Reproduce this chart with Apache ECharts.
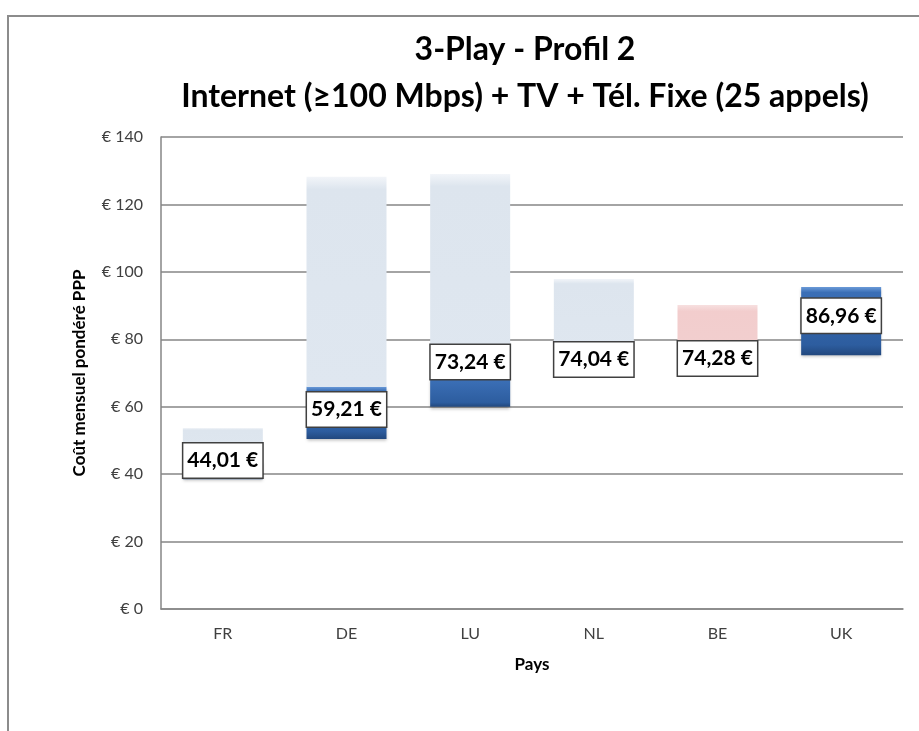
<!DOCTYPE html>
<html>
<head>
<meta charset="utf-8">
<script src="https://cdn.jsdelivr.net/npm/echarts@6/dist/echarts.min.js"></script>
<style>
  html, body { margin: 0; padding: 0; background: #fff; }
  #chart { width: 919px; height: 731px; }
</style>
</head>
<body>
<div id="chart"></div>
<script>
// pays
var pays = ['FR', 'DE', 'LU', 'NL', 'BE', 'UK'];
// bas de la barre foncée, haut de la barre foncée, haut de la barre claire
var bas = [38.5, 50.4, 60.0, 74.0, 74.3, 75.3];
var milieu = [44.0, 65.9, 68.5, 74.0, 74.3, 95.5];
var haut = [53.7, 128.2, 129.0, 97.9, 90.2, 95.5];
// valeurs affichées
var valeurs = [44.01, 59.21, 73.24, 74.04, 74.28, 86.96];
var yTicks = [0, 20, 40, 60, 80, 100, 120, 140];

var police = 'Lato, "Open Sans", sans-serif';

var chart = echarts.init(document.getElementById('chart'));

var foncé = [], clair = [];
for (var i = 0; i < pays.length; i++) {
  foncé.push(+(milieu[i] - bas[i]).toFixed(2));
  var c = { value: +(haut[i] - milieu[i]).toFixed(2) };
  if (pays[i] === 'BE') {
    c.itemStyle = { color: new echarts.graphic.LinearGradient(0, 0, 0, 1, [
      { offset: 0, color: '#f7e0e0' }, { offset: 0.12, color: '#f2cdcd' }, { offset: 1, color: '#f2cfcf' }]) };
  }
  clair.push(c);
}

chart.setOption({
  animation: false,
  textStyle: { fontFamily: police },
  graphic: [{
    type: 'rect',
    shape: { x: 8, y: 16, width: 930, height: 740 },
    style: { fill: 'none', stroke: '#8c8c8c', lineWidth: 2 }
  }],
  title: [{
    text: '3-Play - Profil 2',
    left: 520, top: 29, textAlign: 'center',
    textStyle: { fontSize: 32, fontWeight: 'bold', color: '#000', fontFamily: police }
  }, {
    text: 'Internet (≥100 Mbps) + TV + Tél. Fixe (25 appels)',
    left: 520, top: 76, textAlign: 'center',
    textStyle: { fontSize: 32, fontWeight: 'bold', color: '#000', fontFamily: police }
  }],
  grid: { left: 161, right: 16, top: 137, bottom: 122 },
  xAxis: {
    type: 'category',
    data: pays,
    axisLine: { lineStyle: { color: '#868686', width: 1.5 } },
    axisTick: { show: false },
    axisLabel: { fontSize: 16, color: '#404040', margin: 17 },
    name: 'Pays',
    nameLocation: 'middle',
    nameGap: 47,
    nameTextStyle: { fontSize: 17, fontWeight: 'bold', color: '#000' }
  },
  yAxis: {
    type: 'value',
    min: yTicks[0], max: yTicks[yTicks.length - 1], interval: 20,
    axisLine: { show: true, lineStyle: { color: '#868686', width: 1.5 } },
    axisTick: { show: false },
    splitLine: { lineStyle: { color: '#868686', width: 1.5 } },
    axisLabel: { fontSize: 16, color: '#404040', margin: 18, formatter: '€ {value}' },
    name: 'Coût mensuel pondéré PPP',
    nameLocation: 'middle',
    nameGap: 73,
    nameTextStyle: { fontSize: 17, fontWeight: 'bold', color: '#000' }
  },
  series: [{
    type: 'bar', stack: 'p', barWidth: 80,
    data: bas,
    itemStyle: { color: 'rgba(0,0,0,0)' },
    silent: true
  }, {
    type: 'bar', stack: 'p', barWidth: 80,
    data: foncé,
    itemStyle: {
      color: new echarts.graphic.LinearGradient(0, 0, 0, 1, [
        { offset: 0, color: '#6a9ad8' }, { offset: 0.08, color: '#3b6fb6' },
        { offset: 0.85, color: '#2d5d9f' }, { offset: 1, color: '#22487e' }]),
      shadowColor: 'rgba(0,0,0,0.25)', shadowBlur: 3, shadowOffsetY: 2
    }
  }, {
    type: 'bar', stack: 'p', barWidth: 80,
    data: clair,
    itemStyle: {
      color: new echarts.graphic.LinearGradient(0, 0, 0, 1, [
        { offset: 0, color: '#f2f5f9' }, { offset: 0.06, color: '#dde5ee' }, { offset: 1, color: '#dfe7f0' }])
    }
  }, {
    type: 'scatter',
    symbolSize: 1,
    itemStyle: { color: 'rgba(0,0,0,0)', opacity: 1 },
    data: valeurs.map(function (v, i) { return [i, v]; }),
    label: {
      show: true,
      position: 'inside',
      formatter: function (p) { return p.value[1].toFixed(2).replace('.', ',') + ' €'; },
      fontSize: 21, fontWeight: 'bold', color: '#000',
      backgroundColor: '#fff', borderColor: '#404040', borderWidth: 1.5,
      padding: [5, 4, 4, 4], lineHeight: 25
    },
    z: 10
  }]
});
</script>
</body>
</html>
